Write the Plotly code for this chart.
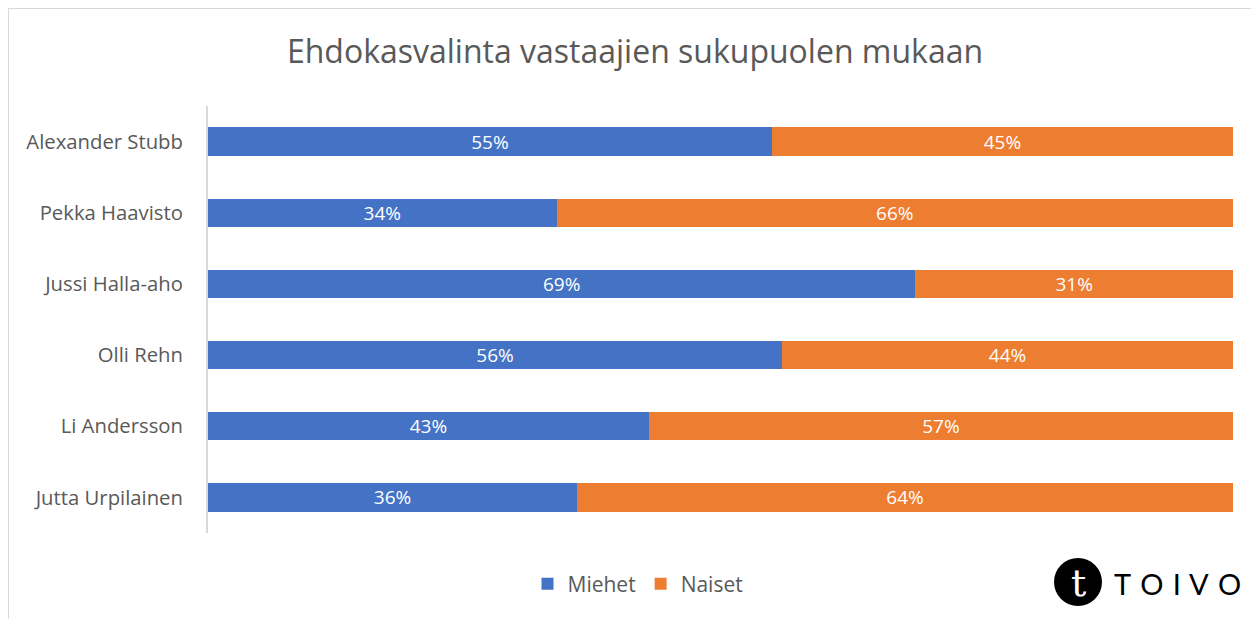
import plotly.graph_objects as go

candidates = ["Alexander Stubb", "Pekka Haavisto", "Jussi Halla-aho", "Olli Rehn", "Li Andersson", "Jutta Urpilainen"]
miehet = [55, 34, 69, 56, 43, 36]
naiset = [45, 66, 31, 44, 57, 64]
title = "Ehdokasvalinta vastaajien sukupuolen mukaan"

OFF = 8  # page body margin
W, H = 1259 - OFF, 619 - OFF
L, R, T, B = 208 - OFF, 1233 - OFF, 106 - OFF, 533 - OFF

def px(x):
    return (x - OFF - L) / (R - L)

def py(y):
    return (B - (y - OFF)) / (B - T)

FONT = "Open Sans"
fig = go.Figure()
fig.add_trace(go.Bar(
    name="Miehet", y=candidates, x=miehet, orientation="h",
    marker=dict(color="#4472C4", line=dict(width=0)),
    text=[f"{v}%" for v in miehet], textposition="inside", insidetextanchor="middle",
    constraintext="none",
    textfont=dict(color="white", size=19, family=FONT),
))
fig.add_trace(go.Bar(
    name="Naiset", y=candidates, x=naiset, orientation="h",
    marker=dict(color="#ED7D31", line=dict(width=0)),
    text=[f"{v}%" for v in naiset], textposition="inside", insidetextanchor="middle",
    constraintext="none",
    textfont=dict(color="white", size=19, family=FONT),
))

fig.update_layout(
    barmode="stack", bargap=0.6,
    width=W, height=H,
    margin=dict(l=L, r=W - R, t=T, b=H - B),
    paper_bgcolor="white", plot_bgcolor="white",
    title=dict(text=title, x=(635 - OFF) / W, xanchor="center", y=1 - (52 - OFF) / H, yanchor="middle",
               font=dict(size=32, color="#595959", family=FONT)),
    xaxis=dict(range=[0, 100], showgrid=False, showticklabels=False, zeroline=False, showline=False, fixedrange=True),
    yaxis=dict(autorange="reversed", showgrid=False, showline=True, linecolor="#D9D9D9", linewidth=2,
               ticks="", ticklabelstandoff=19, tickfont=dict(size=20.3, color="#595959", family=FONT)),
    legend=dict(orientation="h", x=px(638), xanchor="center", y=py(584), yanchor="middle",
                traceorder="normal",
                font=dict(size=21, color="#595959", family=FONT), itemwidth=30),
    showlegend=True,
)

# chart outer border (left and top)
fig.add_shape(type="line", xref="paper", yref="paper", x0=px(8), x1=px(1262), y0=py(8), y1=py(8),
              line=dict(color="#D9D9D9", width=2))
fig.add_shape(type="line", xref="paper", yref="paper", x0=px(8), x1=px(8), y0=py(8), y1=py(622),
              line=dict(color="#D9D9D9", width=2))

# TOIVO logo
cx, cy, r = 1078, 582, 24
fig.add_shape(type="circle", xref="paper", yref="paper", x0=px(cx - r), x1=px(cx + r), y0=py(cy + r), y1=py(cy - r),
              fillcolor="black", line=dict(color="black", width=0))
fig.add_annotation(text="t", xref="paper", yref="paper", x=px(cx), y=py(cy + 1), showarrow=False,
                   xanchor="center", yanchor="middle", font=dict(size=38, color="white", family="DejaVu Serif"))
fig.add_annotation(text="T\u200a O\u200a I\u200a V\u200a O", xref="paper", yref="paper", x=px(1177), y=py(583), showarrow=False,
                   xanchor="center", yanchor="middle", font=dict(size=29, color="black", family="Lato"))

fig.write_html("out.html")
